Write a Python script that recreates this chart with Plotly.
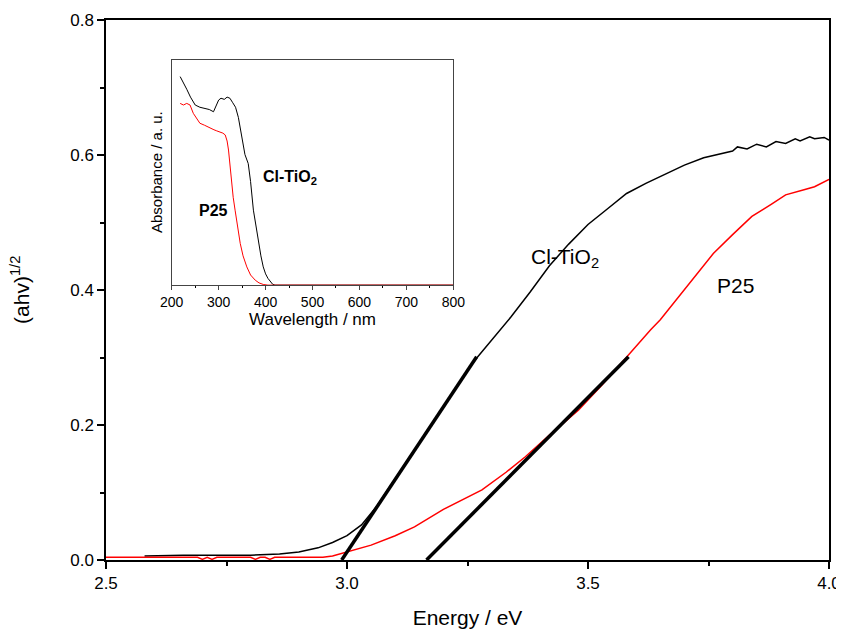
import plotly.graph_objects as go

# ---- main panel data: (ahv)^1/2 vs energy ----
cl_energy = [2.58, 2.62, 2.66, 2.70, 2.75, 2.80, 2.86, 2.90, 2.94, 2.97, 3.00, 3.03, 3.06, 3.10,
             3.15, 3.20, 3.25, 3.27, 3.30, 3.34, 3.38, 3.42, 3.46, 3.50, 3.54, 3.58, 3.62, 3.66,
             3.70, 3.74, 3.78, 3.80, 3.81, 3.83, 3.85, 3.87, 3.89, 3.91, 3.93, 3.94, 3.96, 3.97, 3.99, 4.00]
cl_values = [0.006, 0.007, 0.007, 0.007, 0.007, 0.007, 0.009, 0.012, 0.018, 0.026, 0.036, 0.052, 0.078, 0.121,
             0.175, 0.228, 0.281, 0.300, 0.325, 0.360, 0.397, 0.436, 0.468, 0.497, 0.520, 0.543, 0.558, 0.572,
             0.585, 0.596, 0.603, 0.606, 0.612, 0.609, 0.616, 0.612, 0.620, 0.617, 0.624, 0.621, 0.627, 0.624, 0.626, 0.622]

p25_energy = [2.50, 2.60, 2.69, 2.70, 2.71, 2.72, 2.73, 2.74, 2.80, 2.81, 2.82, 2.83, 2.84, 2.85, 2.86,
              2.90, 2.95, 2.97, 3.00, 3.05, 3.10, 3.14, 3.20, 3.28, 3.33, 3.37, 3.42, 3.48, 3.53,
              3.58, 3.63, 3.65, 3.70, 3.76, 3.80, 3.84, 3.88, 3.91, 3.95, 3.97, 4.00]
p25_values = [0.004, 0.004, 0.004, 0.001, 0.004, 0.001, 0.004, 0.004, 0.004, 0.001, 0.004, 0.004, 0.001, 0.004, 0.004,
              0.004, 0.004, 0.006, 0.012, 0.022, 0.036, 0.049, 0.075, 0.104, 0.130, 0.153, 0.185, 0.222, 0.260,
              0.301, 0.341, 0.356, 0.400, 0.454, 0.482, 0.509, 0.527, 0.541, 0.549, 0.553, 0.564]

# tangent (band-gap extrapolation) lines
cl_tangent_x = [2.989, 3.269]
cl_tangent_y = [0.0, 0.301]
p25_tangent_x = [3.165, 3.584]
p25_tangent_y = [0.0, 0.301]

# ---- inset data: absorbance vs wavelength ----
cl_wl = [218, 225, 232, 240, 250, 260, 270, 280, 289, 295, 300, 305, 312, 318, 324, 330, 336, 342,
         350, 356, 363, 368, 374, 380, 385, 390, 395, 400, 405, 410, 415, 420, 800]
cl_abs = [0.926, 0.90, 0.87, 0.835, 0.80, 0.79, 0.785, 0.78, 0.77, 0.80, 0.822, 0.83, 0.825, 0.835, 0.83, 0.81, 0.79, 0.745,
          0.66, 0.58, 0.54, 0.46, 0.333, 0.25, 0.185, 0.13, 0.081, 0.05, 0.03, 0.014, 0.004, 0.0, 0.0]

p25_wl = [218, 225, 232, 239, 246, 253, 260, 270, 282, 290, 296, 303, 309, 314, 318, 321, 324, 328,
          331, 335, 340, 346, 352, 360, 368, 378, 386, 395, 405, 800]
p25_abs = [0.807, 0.80, 0.807, 0.80, 0.763, 0.74, 0.719, 0.71, 0.696, 0.69, 0.685, 0.681, 0.675, 0.667, 0.64, 0.60, 0.53, 0.452,
           0.39, 0.333, 0.26, 0.185, 0.13, 0.081, 0.045, 0.022, 0.01, 0.003, 0.0, 0.0]

energy_ticks = [2.5, 3.0, 3.5, 4.0]
energy_ticklabels = ["2.5", "3.0", "3.5", "4.0"]
y_ticks = [0.0, 0.2, 0.4, 0.6, 0.8]
y_ticklabels = ["0.0", "0.2", "0.4", "0.6", "0.8"]
wl_ticks = [200, 300, 400, 500, 600, 700, 800]

FONT = "Liberation Sans, Arial, sans-serif"

fig = go.Figure()
fig.add_trace(go.Scatter(x=cl_energy, y=cl_values, mode="lines", line=dict(color="black", width=1.5),
                         showlegend=False))
fig.add_trace(go.Scatter(x=p25_energy, y=p25_values, mode="lines", line=dict(color="#ff0000", width=1.5),
                         showlegend=False))
fig.add_trace(go.Scatter(x=cl_tangent_x, y=cl_tangent_y, mode="lines", line=dict(color="black", width=3.5),
                         showlegend=False))
fig.add_trace(go.Scatter(x=p25_tangent_x, y=p25_tangent_y, mode="lines", line=dict(color="black", width=3.5),
                         showlegend=False))

fig.add_trace(go.Scatter(x=cl_wl, y=cl_abs, mode="lines", line=dict(color="black", width=1),
                         xaxis="x2", yaxis="y2", showlegend=False))
fig.add_trace(go.Scatter(x=p25_wl, y=p25_abs, mode="lines", line=dict(color="#ff0000", width=1),
                         xaxis="x2", yaxis="y2", showlegend=False))

axis_common = dict(showline=True, linecolor="black", linewidth=1.5, mirror=True, ticks="outside",
                   tickcolor="black", tickwidth=1.5, showgrid=False, zeroline=False, automargin=False)

# page body adds an 8px offset; margins compensate
fig.update_layout(
    width=836, height=625,
    margin=dict(l=98, r=15, t=12, b=73),
    plot_bgcolor="white", paper_bgcolor="white",
    font=dict(family=FONT, color="black"),
    xaxis=dict(range=[2.5, 4.0], tickvals=energy_ticks, ticktext=energy_ticklabels, ticklen=7,
               ticklabeloverflow="allow",
               tickfont=dict(size=17), minor=dict(dtick=0.25, tick0=2.5, ticklen=4, ticks="outside",
                                                  tickcolor="black", tickwidth=1.5),
               title=dict(text="Energy / eV", font=dict(size=21), standoff=18), **axis_common),
    yaxis=dict(range=[0, 0.8], tickvals=y_ticks, ticktext=y_ticklabels, ticklen=7,
               tickfont=dict(size=17), minor=dict(dtick=0.1, tick0=0, ticklen=4, ticks="outside",
                                                  tickcolor="black", tickwidth=1.5),
               **axis_common),
    xaxis2=dict(domain=[0.0909, 0.4804], anchor="y2", range=[200, 800], tickvals=wl_ticks, ticklen=4,
                tickfont=dict(size=14), minor=dict(dtick=50, tick0=200, ticklen=2, ticks="outside",
                                                   tickcolor="black", tickwidth=1),
                title=dict(text="Wavelength / nm", font=dict(size=17), standoff=4),
                showline=True, linecolor="#444", linewidth=1, mirror=True, ticks="outside",
                tickcolor="#444", tickwidth=1, showgrid=False, zeroline=False, automargin=False),
    yaxis2=dict(domain=[0.509, 0.926], anchor="x2", range=[0, 1], showticklabels=False, ticks="",
                showline=True, linecolor="#444", linewidth=1, mirror=True, showgrid=False, zeroline=False,
                automargin=False),
    annotations=[
        dict(x=-0.119, y=0.5, xref="paper", yref="paper", text="(ahv)<sup>1/2</sup>", showarrow=False,
             textangle=-90, font=dict(size=21), xanchor="center", yanchor="middle"),
        dict(x=(157 - 106) / 723, y=(560 - 172) / 540, xref="paper", yref="paper", text="Absorbance / a. u.",
             showarrow=False, textangle=-90, font=dict(size=15), xanchor="center", yanchor="middle"),
        dict(x=3.452, y=0.447, xref="x", yref="y", text="Cl-TiO<sub>2</sub>", showarrow=False,
             font=dict(size=21)),
        dict(x=3.805, y=0.407, xref="x", yref="y", text="P25", showarrow=False, font=dict(size=21)),
        dict(x=452, y=0.476, xref="x2", yref="y2", text="<b>Cl-TiO<sub>2</sub></b>", showarrow=False,
             font=dict(size=16)),
        dict(x=290, y=0.333, xref="x2", yref="y2", text="<b>P25</b>", showarrow=False, font=dict(size=16)),
    ],
)

fig.write_html("out.html", post_script="document.body.style.overflow='hidden';")
